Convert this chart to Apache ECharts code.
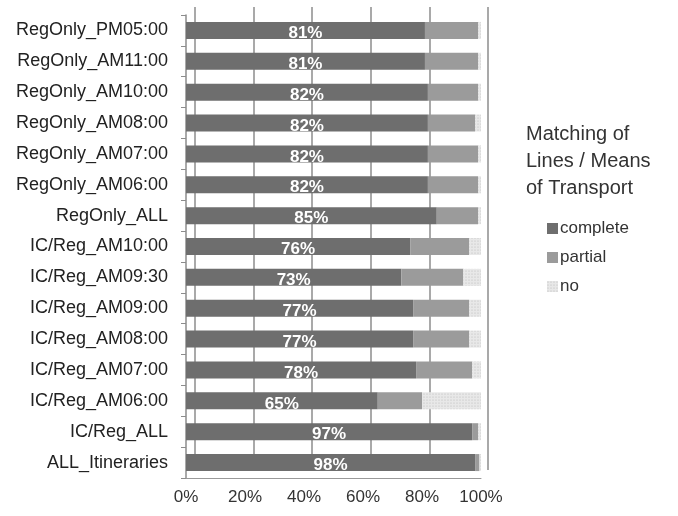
<!DOCTYPE html>
<html>
<head>
<meta charset="utf-8">
<script src="https://cdn.jsdelivr.net/npm/echarts@6/dist/echarts.min.js"></script>
<style>
  html, body { margin: 0; padding: 0; background: #fff; }
  #main { width: 678px; height: 516px; }
</style>
</head>
<body>
<div id="main"></div>
<script>
// 类别（从上到下）
const categories = [
  'RegOnly_PM05:00', 'RegOnly_AM11:00', 'RegOnly_AM10:00', 'RegOnly_AM08:00',
  'RegOnly_AM07:00', 'RegOnly_AM06:00', 'RegOnly_ALL', 'IC/Reg_AM10:00',
  'IC/Reg_AM09:30', 'IC/Reg_AM09:00', 'IC/Reg_AM08:00', 'IC/Reg_AM07:00',
  'IC/Reg_AM06:00', 'IC/Reg_ALL', 'ALL_Itineraries'
];
// 各系列数值 (%)
const completeData = [81, 81, 82, 82, 82, 82, 85, 76, 73, 77, 77, 78, 65, 97, 98];
const partialData  = [18, 18, 17, 16, 17, 17, 14, 20, 21, 19, 19, 19, 15, 2, 1.5];
const noData       = [1, 1, 1, 2, 1, 1, 1, 4, 6, 4, 4, 3, 20, 1, 0.5];
const tickValues = [0, 20, 40, 60, 80, 100];

const chart = echarts.init(document.getElementById('main'));
const font = 'Liberation Sans, Arial, sans-serif';

chart.setOption({
  animation: false,
  backgroundColor: '#fff',
  textStyle: { fontFamily: font },
  title: {
    text: 'Matching of\nLines / Means\nof Transport',
    left: 521,
    top: 116,
    textStyle: { fontSize: 20, fontWeight: 'normal', color: '#333', lineHeight: 27, fontFamily: font }
  },
  legend: {
    orient: 'vertical',
    left: 542,
    top: 215,
    itemWidth: 11,
    itemHeight: 11,
    itemGap: 12,
    icon: 'rect',
    textStyle: { fontSize: 17, color: '#333', padding: [0, 0, 0, -3] },
    data: ['complete', 'partial', 'no']
  },
  grid: [
    // 背墙网格线
    { left: 195, right: 190, top: 7, bottom: 46 },
    // 前面的柱子
    { left: 186, right: 197, top: 15, bottom: 38 }
  ],
  xAxis: [
    {
      gridIndex: 0, type: 'value', min: 0, max: 100, interval: 20,
      axisLabel: { show: false }, axisLine: { show: false }, axisTick: { show: false },
      splitLine: { show: true, lineStyle: { color: '#8c8c8c', width: 1.5 } }
    },
    {
      gridIndex: 1, type: 'value', min: 0, max: 100, interval: 20,
      axisLabel: {
        formatter: v => tickValues.indexOf(v) >= 0 ? v + '%' : '',
        fontSize: 17, color: '#333', margin: 11
      },
      axisLine: { show: true, lineStyle: { color: '#999' } },
      axisTick: { show: false },
      splitLine: { show: false }
    }
  ],
  yAxis: [
    {
      gridIndex: 0, type: 'category', data: categories, inverse: true,
      axisLabel: { show: false }, axisLine: { show: false }, axisTick: { show: false }
    },
    {
      gridIndex: 1, type: 'category', data: categories, inverse: true,
      axisLine: { show: true, lineStyle: { color: '#8c8c8c', width: 1.5 } },
      axisTick: { show: true, length: 5, lineStyle: { color: '#8c8c8c' } },
      axisLabel: { fontSize: 18, color: '#222', margin: 18 }
    }
  ],
  series: [
    {
      name: 'complete', type: 'bar', stack: 'a', xAxisIndex: 1, yAxisIndex: 1,
      barWidth: 17, data: completeData,
      itemStyle: { color: '#6e6e6e' },
      label: {
        show: true, position: 'inside', formatter: '{c}%', offset: [0, 3],
        color: '#fff', fontSize: 17, fontWeight: 'bold', fontFamily: font
      }
    },
    {
      name: 'partial', type: 'bar', stack: 'a', xAxisIndex: 1, yAxisIndex: 1,
      barWidth: 17, data: partialData,
      itemStyle: { color: '#9b9b9b' }
    },
    {
      name: 'no', type: 'bar', stack: 'a', xAxisIndex: 1, yAxisIndex: 1,
      barWidth: 17, data: noData,
      itemStyle: {
        color: '#e8e8e8',
        decal: { symbol: 'circle', symbolSize: 0.6, dashArrayX: [2, 1], dashArrayY: [2, 1], color: '#b8b8b8' }
      }
    }
  ]
});
</script>
</body>
</html>
